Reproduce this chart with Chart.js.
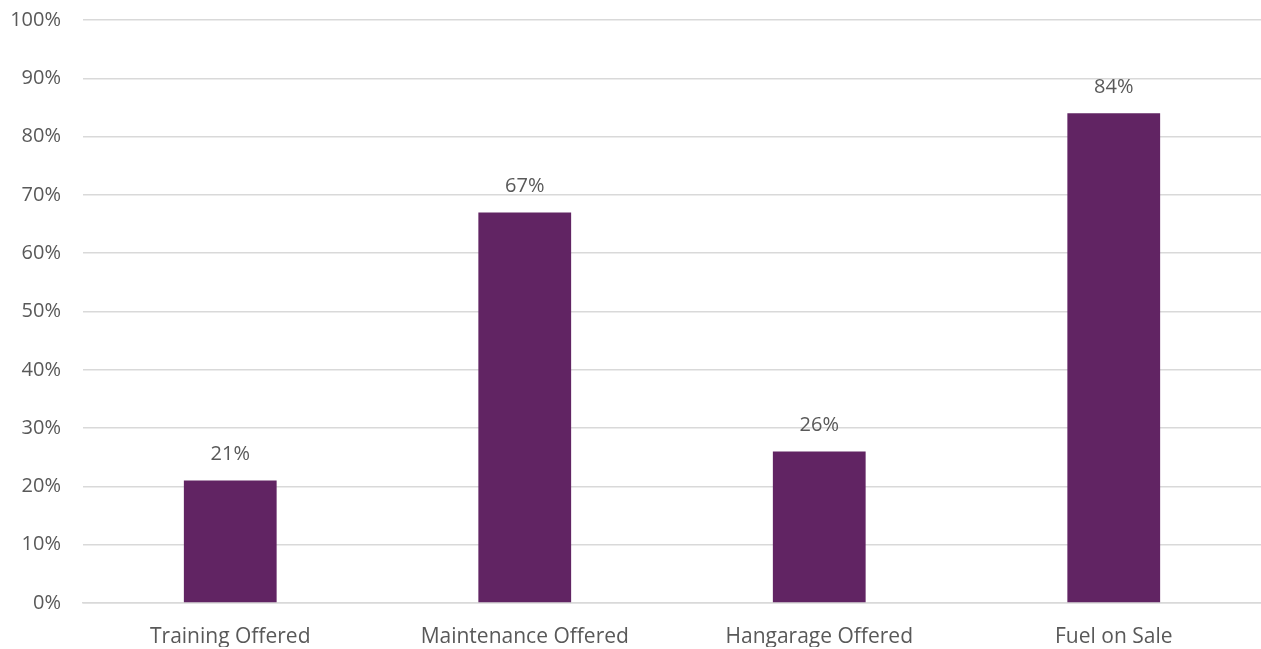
<!DOCTYPE html>
<html>
<head>
  <title>Services Offered</title>
  <script src="https://cdn.jsdelivr.net/npm/chart.js"></script>
  <style>
    html, body {
      margin: 0;
      padding: 0;
      background: #ffffff;
    }
    .chart-container {
      width: 1261px;
      height: 649px;
    }
  </style>
</head>
<body>
  <div class="chart-container">
    <canvas id="serviciosChart"></canvas>
  </div>

  <script>
    const categorias = ['Training Offered', 'Maintenance Offered', 'Hangarage Offered', 'Fuel on Sale'];
    const porcentajes = [21, 67, 26, 84];
    const etiquetasY = [0, 10, 20, 30, 40, 50, 60, 70, 80, 90, 100];

    const FUENTE = '"Open Sans", sans-serif';
    const GRIS = '#595959';

    // dibuja el valor encima de cada barra
    const etiquetasBarras = {
      id: 'etiquetasBarras',
      afterDatasetsDraw(chart) {
        const ctx = chart.ctx;
        const meta = chart.getDatasetMeta(0);
        ctx.save();
        ctx.font = '20px ' + FUENTE;
        ctx.fillStyle = GRIS;
        ctx.textAlign = 'center';
        ctx.textBaseline = 'middle';
        meta.data.forEach((bar, i) => {
          ctx.fillText(porcentajes[i] + '%', bar.x, bar.y - 26);
        });
        ctx.restore();
      }
    };

    new Chart(document.getElementById('serviciosChart'), {
      type: 'bar',
      data: {
        labels: categorias,
        datasets: [{
          data: porcentajes,
          backgroundColor: '#612463',
          barPercentage: 0.63,
          categoryPercentage: 0.5
        }]
      },
      options: {
        responsive: true,
        maintainAspectRatio: false,
        animation: false,
        layout: {
          padding: { top: 20, right: 0, bottom: 2, left: 0 }
        },
        plugins: {
          legend: { display: false },
          tooltip: { enabled: false }
        },
        scales: {
          x: {
            afterFit(scale) { scale.height = 44; },
            grid: { display: false },
            border: { color: '#d9d9d9', width: 1.5 },
            ticks: {
              color: GRIS,
              font: { family: FUENTE, size: 21 },
              padding: 13
            }
          },
          y: {
            min: 0,
            max: 100,
            afterFit(scale) {
              scale.width = 83;
              scale.paddingTop = 0;
              scale.paddingBottom = 0;
            },
            afterBuildTicks(scale) {
              scale.ticks = etiquetasY.map(v => ({ value: v }));
            },
            grid: { color: '#d9d9d9', lineWidth: 1.5, drawTicks: false },
            border: { display: false },
            ticks: {
              color: GRIS,
              font: { family: FUENTE, size: 20 },
              padding: 22,
              callback: v => v + '%'
            }
          }
        }
      },
      plugins: [etiquetasBarras]
    });
  </script>
</body>
</html>
